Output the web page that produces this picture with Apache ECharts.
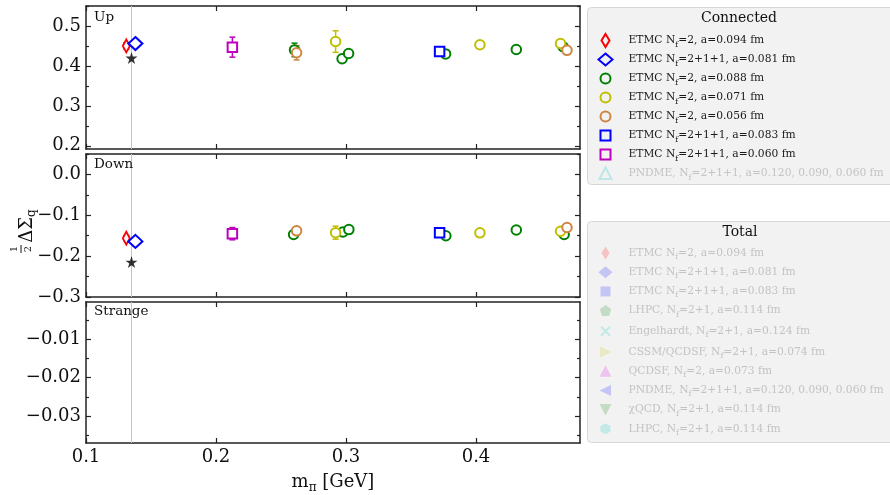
<!DOCTYPE html>
<html>
<head>
<meta charset="utf-8">
<script src="https://cdn.jsdelivr.net/npm/echarts@6/dist/echarts.min.js"></script>
<style>html,body{margin:0;padding:0;background:#fff}#c{width:890px;height:495px}</style>
</head>
<body>
<div id="c"></div>
<script>
// ---------------- data ----------------
// pion mass axis (GeV)
const xTicks = [0.1, 0.2, 0.3, 0.4];
const physicalPionMass = 0.135;
// y tick values per panel
const upTicks = [0.2, 0.3, 0.4, 0.5];
const upMinor = [0.25, 0.35, 0.45, 0.55];
const downTicks = [0.0, -0.1, -0.2, -0.3];
const downMinor = [0.05, -0.05, -0.15, -0.25];
const strangeTicks = [-0.01, -0.02, -0.03];
const strangeMinor = [-0.005, -0.015, -0.025, -0.035];

// each point: [m_pi, value, error]
const upEtmc2_094 = [[0.131, 0.450, 0.008]];
const downEtmc2_094 = [[0.131, -0.156, 0.006]];
const upEtmc211_081 = [[0.138, 0.456, 0.006]];
const downEtmc211_081 = [[0.138, -0.164, 0.005]];
const upEtmc2_088 = [[0.2604, 0.440, 0.017], [0.297, 0.418, 0.008], [0.302, 0.431, 0.008], [0.3766, 0.430, 0.006], [0.431, 0.441, 0.006], [0.467, 0.448, 0.006]];
const downEtmc2_088 = [[0.2597, -0.147, 0.008], [0.2976, -0.141, 0.006], [0.3022, -0.135, 0.006], [0.3768, -0.150, 0.005], [0.431, -0.136, 0.005], [0.4678, -0.147, 0.005]];
const upEtmc2_071 = [[0.292, 0.461, 0.027], [0.403, 0.453, 0.008], [0.465, 0.456, 0.008]];
const downEtmc2_071 = [[0.292, -0.1425, 0.016], [0.403, -0.143, 0.006], [0.465, -0.139, 0.006]];
const upEtmc2_056 = [[0.262, 0.433, 0.018], [0.470, 0.439, 0.008]];
const downEtmc2_056 = [[0.262, -0.138, 0.008], [0.470, -0.130, 0.006]];
const upEtmc211_083 = [[0.372, 0.436, 0.006]];
const downEtmc211_083 = [[0.372, -0.1425, 0.005]];
const upEtmc211_060 = [[0.2126, 0.447, 0.025]];
const downEtmc211_060 = [[0.2126, -0.145, 0.015]];
const upPhysical = [[0.135, 0.420]];
const downPhysical = [[0.135, -0.2145]];

const connectedLabels = [
  'ETMC N{s|f}=2, a=0.094 fm',
  'ETMC N{s|f}=2+1+1, a=0.081 fm',
  'ETMC N{s|f}=2, a=0.088 fm',
  'ETMC N{s|f}=2, a=0.071 fm',
  'ETMC N{s|f}=2, a=0.056 fm',
  'ETMC N{s|f}=2+1+1, a=0.083 fm',
  'ETMC N{s|f}=2+1+1, a=0.060 fm',
  'PNDME, N{s|f}=2+1+1, a=0.120, 0.090, 0.060 fm'
];
const totalLabels = [
  'ETMC N{s|f}=2, a=0.094 fm',
  'ETMC N{s|f}=2+1+1, a=0.081 fm',
  'ETMC N{s|f}=2+1+1, a=0.083 fm',
  'LHPC, N{s|f}=2+1, a=0.114 fm',
  'Engelhardt, N{s|f}=2+1, a=0.124 fm',
  'CSSM/QCDSF, N{s|f}=2+1, a=0.074 fm',
  'QCDSF, N{s|f}=2, a=0.073 fm',
  'PNDME, N{s|f}=2+1+1, a=0.120, 0.090, 0.060 fm',
  'χQCD, N{s|f}=2+1, a=0.114 fm',
  'LHPC, N{s|f}=2+1, a=0.114 fm'
];

// ---------------- styles ----------------
const FONT = 'DejaVu Serif';
const FRAME = '#222';
const COL = {red:'#ff0000', blue:'#0000ff', green:'#008000', yellow:'#bfbf00', orange:'#cd853f', magenta:'#bf00bf', cyan:'#b3e3e3'};
const FADE = {red:'#f5b7b7', blue:'#b9b9f5', green:'#b7d6b7', cyan:'#b7e6e6', yellow:'#e6e6b7', pink:'#ecb7ec'};

const BOX = 'M0,0M14,14';
const ICON = {
  thinD: 'path://' + BOX + 'M7,0.5L11,7L7,13.5L3,7Z',
  diamond: 'path://' + BOX + 'M7,1L14,7L7,13L0,7Z',
  circle: 'path://' + BOX + 'M12,7A5,5,0,1,1,2,7A5,5,0,1,1,12,7Z',
  square: 'path://' + BOX + 'M2,2L12,2L12,12L2,12Z',
  triUp: 'path://' + BOX + 'M7,1L13,12.5L1,12.5Z',
  pentagon: 'path://' + BOX + 'M7,1.5L12.7,5.6L10.5,12.3L3.5,12.3L1.3,5.6Z',
  cross: 'path://' + BOX + 'M2.5,2.5L11.5,11.5M11.5,2.5L2.5,11.5',
  triRight: 'path://' + BOX + 'M1.5,1.5L13,7L1.5,12.5Z',
  triLeft: 'path://' + BOX + 'M12.5,1.5L1,7L12.5,12.5Z',
  triDown: 'path://' + BOX + 'M1,1.5L13,1.5L7,13Z',
  hexagon: 'path://' + BOX + 'M7,1.5L12,4.2L12,9.8L7,12.5L2,9.8L2,4.2Z'
};
const STAR = 'path://M50,0L61,35L98,35L68,57L79,91L50,70L21,91L32,57L2,35L39,35Z';

// ---------------- layout ----------------
const grids = [
  {left: 86, width: 494, top: 6, height: 143},
  {left: 86, width: 494, top: 154, height: 143},
  {left: 86, width: 494, top: 302, height: 142}
];
const yRanges = [[0.192, 0.55], [-0.30, 0.05], [-0.0371, -0.0002]];
const yMajors = [upTicks, downTicks, strangeTicks];
const yMinors = [upMinor, downMinor, strangeMinor];
const yFmt = [v => v.toFixed(1), v => v.toFixed(1).replace('-', '\u2212'), v => v.toFixed(2).replace('-', '\u2212')];

const lineStyle = {color: FRAME, width: 1.5};
const tickStyle = {color: FRAME, width: 1.2};
const xAxes = [], yAxes = [];
grids.forEach((g, gi) => {
  const last = gi === 2;
  ['bottom', 'top'].forEach(pos => {
    xAxes.push({
      gridIndex: gi, type: 'value', position: pos, min: 0.1, max: 0.48,
      axisLine: {show: true, onZero: false, lineStyle},
      axisTick: {show: true, inside: true, length: 5, customValues: xTicks, lineStyle: tickStyle},
      axisLabel: {show: last && pos === 'bottom', customValues: xTicks, formatter: v => v.toFixed(1),
        fontFamily: FONT, fontSize: 18, color: '#111', margin: 5},
      splitLine: {show: false},
      name: (last && pos === 'bottom') ? 'm{s|π} [GeV]' : '',
      nameLocation: 'middle', nameGap: 27,
      nameTextStyle: {fontFamily: FONT, fontSize: 18, color: '#111', lineHeight: 24,
        rich: {s: {fontFamily: FONT, fontSize: 12, lineHeight: 12, verticalAlign: 'bottom', color: '#111'}}}
    });
  });
  const [mn, mx] = yRanges[gi];
  [['left', yMajors[gi], 5, true], ['right', yMajors[gi], 5, false],
   ['left', yMinors[gi], 3, false], ['right', yMinors[gi], 3, false]].forEach(([pos, vals, len, lab], k) => {
    yAxes.push({
      gridIndex: gi, type: 'value', position: pos, min: mn, max: mx,
      axisLine: {show: k < 2, onZero: false, lineStyle},
      axisTick: {show: true, inside: true, length: len, customValues: vals, lineStyle: tickStyle},
      axisLabel: {show: lab, customValues: vals, formatter: yFmt[gi], fontFamily: FONT, fontSize: 18, color: '#111', margin: 5},
      splitLine: {show: false}
    });
  });
});

// ---------------- series ----------------
const series = [];
// vertical physical-pion-mass line in every panel
[0, 1, 2].forEach(gi => {
  series.push({
    type: 'custom', name: 'vline', xAxisIndex: gi * 2, yAxisIndex: gi * 4, silent: true, z: 1,
    data: [[physicalPionMass]],
    renderItem: (params, api) => {
      const cs = params.coordSys;
      const x = api.coord([api.value(0), yRanges[gi][0]])[0];
      return {type: 'line', shape: {x1: x, y1: cs.y, x2: x, y2: cs.y + cs.height},
        style: {stroke: '#c4c4c4', lineWidth: 1}};
    }
  });
});
function errSeries(data, gi, color) {
  return {
    type: 'custom', name: 'err', xAxisIndex: gi * 2, yAxisIndex: gi * 4, silent: true,
    data: data,
    renderItem: (params, api) => {
      const x = api.value(0), y = api.value(1), e = api.value(2);
      const p1 = api.coord([x, y - e]), p2 = api.coord([x, y + e]);
      const st = {stroke: color, lineWidth: 1.5};
      return {type: 'group', children: [
        {type: 'line', shape: {x1: p1[0], y1: p1[1], x2: p2[0], y2: p2[1]}, style: st},
        {type: 'line', shape: {x1: p1[0] - 3, y1: p1[1], x2: p1[0] + 3, y2: p1[1]}, style: st},
        {type: 'line', shape: {x1: p2[0] - 3, y1: p2[1], x2: p2[0] + 3, y2: p2[1]}, style: st}
      ]};
    }
  };
}
function markers(name, data, gi, color, symbol, size) {
  return {
    type: 'scatter', name, xAxisIndex: gi * 2, yAxisIndex: gi * 4, data: data.map(d => [d[0], d[1]]),
    symbol, symbolSize: size, silent: true,
    itemStyle: {color: '#ffffff', borderColor: color, borderWidth: 2, opacity: 1}
  };
}
const connected = [
  ['c1', upEtmc2_094, downEtmc2_094, COL.red, 'diamond', [7, 13]],
  ['c2', upEtmc211_081, downEtmc211_081, COL.blue, 'diamond', [14, 13]],
  ['c3', upEtmc2_088, downEtmc2_088, COL.green, 'circle', 9.5],
  ['c4', upEtmc2_071, downEtmc2_071, COL.yellow, 'circle', 9.5],
  ['c5', upEtmc2_056, downEtmc2_056, COL.orange, 'circle', 9.5],
  ['c6', upEtmc211_083, downEtmc211_083, COL.blue, 'rect', 9.5],
  ['c7', upEtmc211_060, downEtmc211_060, COL.magenta, 'rect', 9.5]
];
connected.forEach(([name, up, down, color, sym, size]) => {
  series.push(errSeries(up, 0, color));
  series.push(markers(name, up, 0, color, sym, size));
  series.push(errSeries(down, 1, color));
  series.push(markers(name, down, 1, color, sym, size));
});
// physical point
[upPhysical, downPhysical].forEach((d, gi) => {
  series.push({type: 'scatter', name: 'phys', xAxisIndex: gi * 2, yAxisIndex: gi * 4, data: d,
    symbol: STAR, symbolSize: 12, silent: true, itemStyle: {color: '#000'}});
});
// legend-only series (not shown in these panels)
const extraNames = ['c8', 't1', 't2', 't3', 't4', 't5', 't6', 't7', 't8', 't9', 't10'];
extraNames.forEach(n => series.push({type: 'scatter', name: n, data: [], xAxisIndex: 0, yAxisIndex: 0}));

// ---------------- legends ----------------
const labelMap = {};
connectedLabels.forEach((l, i) => labelMap['c' + (i + 1)] = l);
totalLabels.forEach((l, i) => labelMap['t' + (i + 1)] = l);

const hollow = c => ({color: 'none', borderColor: c, borderWidth: 2});
const filled = c => ({color: c, borderWidth: 0});
const DARK = '#1a1a1a', LIGHT = '#c3c3c3';
const connData = [
  {name: 'c1', icon: ICON.thinD, itemStyle: hollow(COL.red)},
  {name: 'c2', icon: ICON.diamond, itemStyle: hollow(COL.blue)},
  {name: 'c3', icon: ICON.circle, itemStyle: hollow(COL.green)},
  {name: 'c4', icon: ICON.circle, itemStyle: hollow(COL.yellow)},
  {name: 'c5', icon: ICON.circle, itemStyle: hollow(COL.orange)},
  {name: 'c6', icon: ICON.square, itemStyle: hollow(COL.blue)},
  {name: 'c7', icon: ICON.square, itemStyle: hollow(COL.magenta)},
  {name: 'c8', icon: ICON.triUp, itemStyle: hollow(COL.cyan), textStyle: {color: LIGHT}}
];
const totData = [
  {name: 't1', icon: ICON.thinD, itemStyle: filled(FADE.red)},
  {name: 't2', icon: ICON.diamond, itemStyle: filled(FADE.blue)},
  {name: 't3', icon: ICON.square, itemStyle: filled(FADE.blue)},
  {name: 't4', icon: ICON.pentagon, itemStyle: filled(FADE.green)},
  {name: 't5', icon: ICON.cross, itemStyle: {color: 'none', borderColor: FADE.cyan, borderWidth: 2}},
  {name: 't6', icon: ICON.triRight, itemStyle: filled(FADE.yellow)},
  {name: 't7', icon: ICON.triUp, itemStyle: filled(FADE.pink)},
  {name: 't8', icon: ICON.triLeft, itemStyle: filled(FADE.blue)},
  {name: 't9', icon: ICON.triDown, itemStyle: filled(FADE.green)},
  {name: 't10', icon: ICON.hexagon, itemStyle: filled(FADE.cyan)}
];
function legendText(color) {
  return {fontFamily: FONT, fontSize: 10.7, color, lineHeight: 16,
    rich: {s: {fontFamily: FONT, fontSize: 8, lineHeight: 8, verticalAlign: 'bottom'}}};
}
const legends = [
  {id: 'conn', orient: 'vertical', left: 596, top: 31, itemWidth: 36, itemHeight: 14, itemGap: 0, padding: 0,
   selectedMode: false, z: 10, data: connData, formatter: n => labelMap[n], textStyle: legendText(DARK)},
  {id: 'tot', orient: 'vertical', left: 596, top: 245, itemWidth: 36, itemHeight: 14, itemGap: 3.2, padding: 0,
   selectedMode: false, z: 10, data: totData, formatter: n => labelMap[n], textStyle: legendText(LIGHT)}
];

// ---------------- decorations ----------------
const graphic = [
  {type: 'rect', z: 0, shape: {x: 587.5, y: 7.5, width: 320, height: 177, r: 4}, style: {fill: '#f2f2f2', stroke: '#d6d6d6', lineWidth: 1}},
  {type: 'rect', z: 0, shape: {x: 587.5, y: 221.5, width: 320, height: 221, r: 4}, style: {fill: '#f2f2f2', stroke: '#d6d6d6', lineWidth: 1}},
  {type: 'text', z: 5, x: 739, y: 18, style: {text: 'Connected', font: '14px "DejaVu Serif"', fill: '#111', textAlign: 'center', textVerticalAlign: 'middle'}},
  {type: 'text', z: 5, x: 740, y: 232, style: {text: 'Total', font: '14px "DejaVu Serif"', fill: '#111', textAlign: 'center', textVerticalAlign: 'middle'}},
  {type: 'text', z: 5, x: 94, y: 17, style: {text: 'Up', font: '13.5px "DejaVu Serif"', fill: '#111', textVerticalAlign: 'middle'}},
  {type: 'text', z: 5, x: 94, y: 164, style: {text: 'Down', font: '13.5px "DejaVu Serif"', fill: '#111', textVerticalAlign: 'middle'}},
  {type: 'text', z: 5, x: 94, y: 311, style: {text: 'Strange', font: '13.5px "DejaVu Serif"', fill: '#111', textVerticalAlign: 'middle'}},
  {type: 'group', x: 27, y: 227, rotation: Math.PI / 2, children: [
    {type: 'text', x: -3, y: 0, style: {text: 'ΔΣ', font: '18px "DejaVu Serif"', fill: '#111', textAlign: 'center', textVerticalAlign: 'middle'}},
    {type: 'text', x: 10, y: 5, style: {text: 'q', font: '12px "DejaVu Serif"', fill: '#111', textAlign: 'left', textVerticalAlign: 'middle'}},
    {type: 'text', x: -22, y: -13, style: {text: '1', font: '10px "DejaVu Serif"', fill: '#111', textAlign: 'center', textVerticalAlign: 'middle'}},
    {type: 'text', x: -22, y: 1, style: {text: '2', font: '10px "DejaVu Serif"', fill: '#111', textAlign: 'center', textVerticalAlign: 'middle'}},
    {type: 'line', shape: {x1: -26, y1: -6, x2: -18, y2: -6}, style: {stroke: '#111', lineWidth: 1}}
  ]}
];

const chart = echarts.init(document.getElementById('c'), null, {renderer: 'canvas'});
chart.setOption({
  animation: false,
  backgroundColor: '#fff',
  grid: grids,
  xAxis: xAxes,
  yAxis: yAxes,
  legend: legends,
  graphic,
  series
});
</script>
</body>
</html>
